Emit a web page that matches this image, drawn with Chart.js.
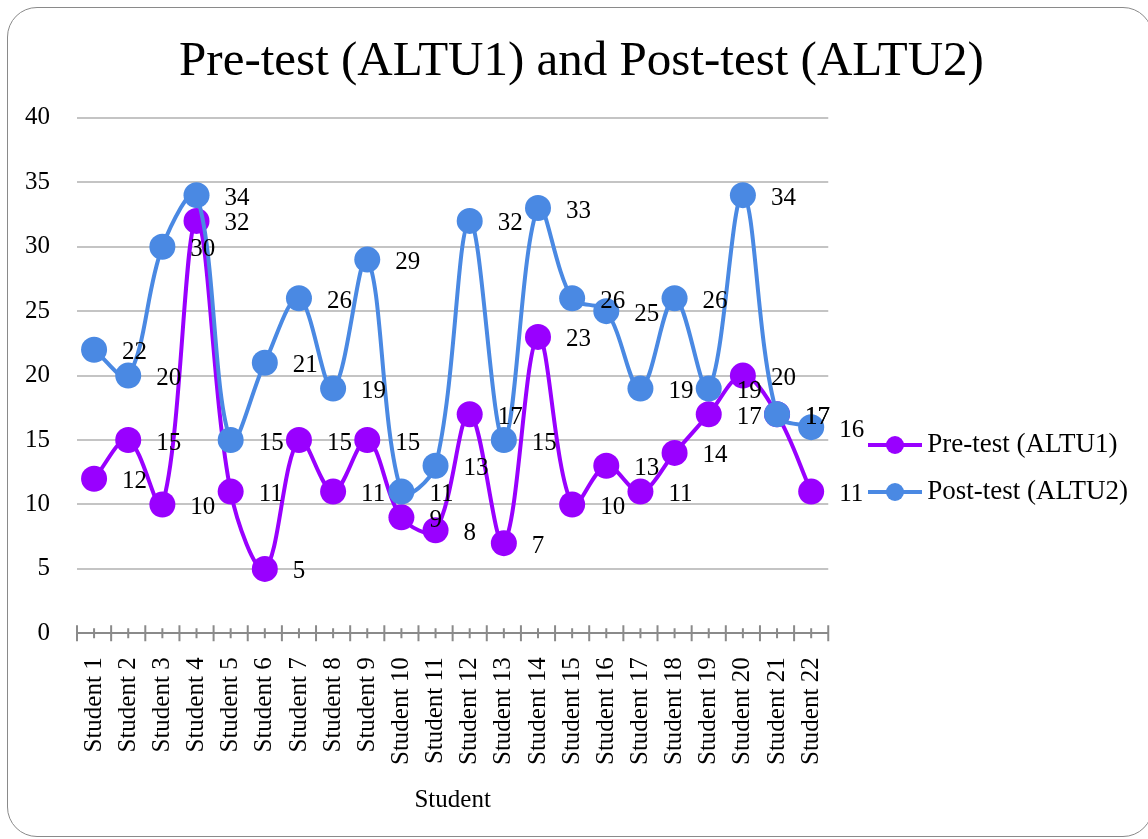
<!DOCTYPE html>
<html>
<head>
<meta charset="utf-8">
<script src="https://cdn.jsdelivr.net/npm/chart.js@4.4.0/dist/chart.umd.min.js"></script>
<style>
  html, body { margin: 0; padding: 0; background: #fff; }
  #wrap { position: relative; width: 1148px; height: 839px; overflow: hidden; }
  #frame {
    position: absolute; left: 7px; top: 7px; width: 1146px; height: 830px;
    border: 1.5px solid #8a8a8a; border-radius: 30px; box-sizing: border-box;
  }
  canvas { position: absolute; left: 0; top: 0; }
</style>
</head>
<body>
<div id="wrap">
  <div id="frame"></div>
  <canvas id="c" width="1148" height="839"></canvas>
</div>
<script>
// Scores per student
const students = [
  'Student 1', 'Student 2', 'Student 3', 'Student 4', 'Student 5', 'Student 6',
  'Student 7', 'Student 8', 'Student 9', 'Student 10', 'Student 11', 'Student 12',
  'Student 13', 'Student 14', 'Student 15', 'Student 16', 'Student 17', 'Student 18',
  'Student 19', 'Student 20', 'Student 21', 'Student 22'
];
const preTest  = [12, 15, 10, 32, 11, 5, 15, 11, 15, 9, 8, 17, 7, 23, 10, 13, 11, 14, 17, 20, 17, 11];
const postTest = [22, 20, 30, 34, 15, 21, 26, 19, 29, 11, 13, 32, 15, 33, 26, 25, 19, 26, 19, 34, 17, 16];
const yMin = 0, yMax = 40, yStep = 5;

const FONT = 'Liberation Serif';
const PRE_COLOR = '#9900ff';
const POST_COLOR = '#4a89e3';

// Legend swatch: short line with a marker in the middle (left part kept empty as spacing)
function legendIcon(color) {
  const cv = document.createElement('canvas');
  cv.width = 82; cv.height = 20;
  const g = cv.getContext('2d');
  g.strokeStyle = color; g.lineWidth = 4;
  g.beginPath(); g.moveTo(28, 10); g.lineTo(82, 10); g.stroke();
  g.fillStyle = color;
  g.beginPath(); g.arc(55, 10, 9, 0, Math.PI * 2); g.fill();
  return cv;
}

// Value labels to the right of each point
const valueLabels = {
  id: 'valueLabels',
  afterDatasetsDraw(chart) {
    const ctx = chart.ctx;
    ctx.save();
    ctx.font = '25px "' + FONT + '"';
    ctx.fillStyle = '#000';
    ctx.textAlign = 'left';
    ctx.textBaseline = 'middle';
    chart.data.datasets.forEach((ds, i) => {
      chart.getDatasetMeta(i).data.forEach((pt, j) => {
        ctx.fillText(String(ds.data[j]), pt.x + 28, pt.y + 3);
      });
    });
    ctx.restore();
  }
};

// Crossing tick marks on the category axis
const axisTicks = {
  id: 'axisTicks',
  beforeDatasetsDraw(chart) {
    const ctx = chart.ctx;
    const xs = chart.scales.x;
    const y0 = chart.scales.y.getPixelForValue(yMin);
    const n = chart.data.labels.length;
    const step = xs.getPixelForValue(1) - xs.getPixelForValue(0);
    ctx.save();
    ctx.strokeStyle = '#8a8a8a';
    ctx.lineWidth = 2;
    ctx.beginPath();
    for (let i = 0; i < n; i++) {
      const c = xs.getPixelForValue(i);
      ctx.moveTo(c, y0 - 5); ctx.lineTo(c, y0 + 5);
      ctx.moveTo(c - step / 2, y0 - 8); ctx.lineTo(c - step / 2, y0 + 8);
    }
    const last = xs.getPixelForValue(n - 1) + step / 2;
    ctx.moveTo(last, y0 - 8); ctx.lineTo(last, y0 + 8);
    ctx.stroke();
    ctx.restore();
  }
};

new Chart(document.getElementById('c'), {
  type: 'line',
  data: {
    labels: students,
    datasets: [
      { label: 'Pre-test (ALTU1)', data: preTest, borderColor: PRE_COLOR, backgroundColor: PRE_COLOR,
        pointBackgroundColor: PRE_COLOR, order: 1 },
      { label: 'Post-test (ALTU2)', data: postTest, borderColor: POST_COLOR, backgroundColor: POST_COLOR,
        pointBackgroundColor: POST_COLOR, order: 0 }
    ]
  },
  options: {
    responsive: false,
    animation: false,
    devicePixelRatio: 1,
    layout: { padding: { left: 25, right: 10, top: 33, bottom: 24 } },
    elements: {
      line: { tension: 0.35, borderWidth: 4, fill: false },
      point: { radius: 13, hoverRadius: 13, borderWidth: 0 }
    },
    plugins: {
      title: {
        display: true,
        text: 'Pre-test (ALTU1) and Post-test (ALTU2)',
        color: '#000',
        font: { family: FONT, size: 49, weight: 'normal' },
        padding: { top: 0, bottom: 26 }
      },
      legend: {
        position: 'right',
        align: 'center',
        maxWidth: 400,
        title: { display: true, text: ' ', font: { size: 10 }, padding: { top: 77, bottom: 0 } },
        labels: {
          usePointStyle: true,
          pointStyleWidth: 65.5,
          boxHeight: 20,
          padding: 20,
          color: '#000',
          font: { family: FONT, size: 27 },
          generateLabels(chart) {
            return chart.data.datasets.map((ds, i) => ({
              text: ds.label,
              pointStyle: legendIcon(ds.borderColor),
              fillStyle: ds.borderColor,
              strokeStyle: ds.borderColor,
              lineWidth: 0,
              hidden: false,
              datasetIndex: i,
              fontColor: '#000'
            }));
          }
        }
      },
      tooltip: { enabled: false }
    },
    scales: {
      x: {
        offset: true,
        grid: { display: false, offset: true },
        border: { display: false },
        ticks: {
          minRotation: 90, maxRotation: 90, autoSkip: false, padding: 16,
          color: '#000', font: { family: FONT, size: 25 }
        },
        title: {
          display: true, text: 'Student', color: '#000',
          font: { family: FONT, size: 25 }, padding: { top: 4, bottom: 0 }
        }
      },
      y: {
        min: yMin, max: yMax,
        afterFit(scale) { scale.width = 52; },
        ticks: { stepSize: yStep, padding: 27, color: '#000', font: { family: FONT, size: 25 } },
        grid: {
          drawTicks: false,
          lineWidth: 2,
          color: (c) => (c.tick && c.tick.value === yMin ? '#8a8a8a' : '#c4c4c4')
        },
        border: { display: false }
      }
    }
  },
  plugins: [axisTicks, valueLabels]
});
</script>
</body>
</html>
